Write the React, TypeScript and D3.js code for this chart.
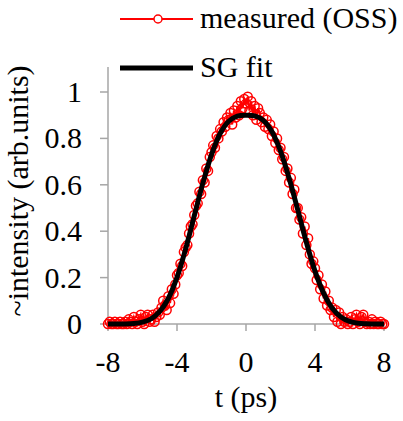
import React from "react";
import * as d3 from "d3";

// measured OSS trace, t from -8 to 8 ps in 0.1 ps steps
const measuredT = d3.range(161).map((i) => -8 + i * 0.1);
const measuredI = [
  0.00, 0.01, 0.00, 0.00, 0.01, 0.00, 0.00, 0.01, 0.00, 0.00,
  0.01, 0.00, 0.02, 0.01, 0.00, 0.03, 0.01, 0.00, 0.02, 0.04,
  0.01, 0.00, 0.03, 0.04, 0.01, 0.02, 0.04, 0.01, 0.03, 0.05,
  0.04, 0.07, 0.10, 0.08, 0.06, 0.12, 0.09, 0.15, 0.13, 0.17,
  0.21, 0.22, 0.26, 0.25, 0.31, 0.33, 0.34, 0.39, 0.42, 0.43,
  0.47, 0.51, 0.52, 0.57, 0.56, 0.62, 0.61, 0.67, 0.66, 0.72,
  0.74, 0.77, 0.76, 0.81, 0.80, 0.84, 0.83, 0.87, 0.85, 0.89,
  0.88, 0.91, 0.86, 0.92, 0.89, 0.94, 0.90, 0.96, 0.93, 0.97,
  0.95, 0.98, 0.92, 0.96, 0.90, 0.94, 0.88, 0.93, 0.91, 0.87,
  0.89, 0.85, 0.88, 0.84, 0.86, 0.81, 0.83, 0.78, 0.80, 0.75,
  0.76, 0.71, 0.72, 0.66, 0.67, 0.61, 0.63, 0.56, 0.58, 0.50,
  0.50, 0.45, 0.46, 0.39, 0.42, 0.34, 0.37, 0.30, 0.26, 0.27,
  0.24, 0.19, 0.21, 0.15, 0.17, 0.11, 0.14, 0.08, 0.10, 0.06,
  0.07, 0.03, 0.06, 0.01, 0.05, 0.00, 0.03, 0.01, 0.02, 0.00,
  0.01, 0.03, 0.00, 0.02, 0.04, 0.01, 0.00, 0.03, 0.04, 0.01,
  0.00, 0.01, 0.00, 0.02, 0.00, 0.01, 0.00, 0.00, 0.01, 0.00, 0.00,
];

// SG fit, 0.5 ps steps
const fitT = d3.range(33).map((i) => -8 + i * 0.5);
const fitI = [
  0, 0, 0, 0.002, 0.008, 0.022, 0.054, 0.111, 0.201, 0.323, 0.466,
  0.607, 0.73, 0.821, 0.874, 0.896, 0.9, 0.897, 0.878, 0.83, 0.745,
  0.628, 0.492, 0.352, 0.228, 0.133, 0.068, 0.03, 0.011, 0.003, 0.001,
  0, 0,
];

const xTicks = [-8, -4, 0, 4, 8];
const yTicks = [0, 0.2, 0.4, 0.6, 0.8, 1];

const W = 403;
const H = 421;
const serif = { fontFamily: "Liberation Serif" };
const fs = 30;
const axisColor = "#a6a6a6";

export default function App() {
  const x = d3.scaleLinear().domain([-8, 8]).range([108, 384]);
  const y = d3.scaleLinear().domain([0, 1]).range([324, 92]);

  const line = d3
    .line<number>()
    .x((_, i) => x(measuredT[i]))
    .y((d) => y(d));
  const fitLine = d3
    .line<number>()
    .x((_, i) => x(fitT[i]))
    .y((d) => y(d))
    .curve(d3.curveCatmullRom);

  return (
    <div style={{ position: "absolute", left: 0, top: 0 }}>
      <svg width={W} height={H}>
        {/* axes */}
        <line x1={x(-8)} x2={x(8)} y1={y(0)} y2={y(0)} stroke={axisColor} strokeWidth={1.5} />
        <line x1={x(-8)} x2={x(-8)} y1={y(0)} y2={67} stroke={axisColor} strokeWidth={1.5} />
        {xTicks.map((t) => (
          <g key={t}>
            <line x1={x(t)} x2={x(t)} y1={y(0)} y2={y(0) + 7} stroke={axisColor} strokeWidth={1.5} />
            <text x={x(t)} y={372} textAnchor="middle" fontSize={fs} style={serif}>
              {t}
            </text>
          </g>
        ))}
        {yTicks.map((t) => (
          <g key={t}>
            <line x1={x(-8) - 8} x2={x(-8)} y1={y(t)} y2={y(t)} stroke={axisColor} strokeWidth={1.5} />
            <text x={82} y={y(t) + 10} textAnchor="end" fontSize={fs} style={serif}>
              {t}
            </text>
          </g>
        ))}
        <text x={x(0)} y={407} textAnchor="middle" fontSize={fs} style={serif}>
          t (ps)
        </text>
        <text transform="translate(28,191) rotate(-90)" textAnchor="middle" fontSize={fs} style={serif}>
          ~intensity (arb.units)
        </text>

        {/* measured */}
        <path d={line(measuredI) ?? ""} fill="none" stroke="#ff0000" strokeWidth={2} />
        {measuredI.map((v, i) => (
          <circle
            key={i}
            cx={x(measuredT[i])}
            cy={y(v)}
            r={4.5}
            fill="none"
            stroke="#ff0000"
            strokeWidth={1.5}
          />
        ))}
        {/* fit */}
        <path d={fitLine(fitI) ?? ""} fill="none" stroke="#000" strokeWidth={5} />

        {/* legend */}
        <line x1={120} x2={193} y1={19} y2={19} stroke="#ff0000" strokeWidth={2} />
        <circle cx={158} cy={19} r={4} fill="#fff" stroke="#ff0000" strokeWidth={1.5} />
        <text x={200} y={28} fontSize={fs} style={serif}>
          measured (OSS)
        </text>
        <line x1={120} x2={193} y1={68} y2={68} stroke="#000" strokeWidth={5} />
        <text x={200} y={77} fontSize={fs} style={serif}>
          SG fit
        </text>
      </svg>
    </div>
  );
}
